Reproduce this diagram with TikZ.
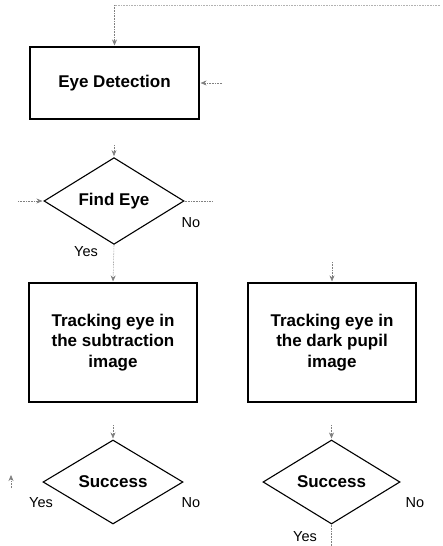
\documentclass[tikz,border=0pt]{standalone}
\usepackage{fontspec}
\setmainfont{Liberation Sans}
\usetikzlibrary{positioning,shapes.geometric,arrows.meta}

\begin{document}
\begin{tikzpicture}[x=1pt,y=-1pt,
    box/.style={draw,line width=1.1pt,minimum width=169pt,minimum height=72pt,inner sep=0pt,align=center,font=\fontsize{17}{20.5}\selectfont\bfseries},
    decision/.style={draw,diamond,line width=1.1pt,minimum width=140pt,minimum height=84pt,inner sep=0pt,font=\fontsize{17}{20.5}\selectfont\bfseries},
    link/.style={draw=gray,densely dotted,line width=0.6pt},
    flow/.style={link,-{Stealth[length=6pt,width=5pt]},shorten >=1pt},
    lbl/.style={font=\fontsize{14.5}{16}\selectfont}]
  \useasboundingbox (0,0) rectangle (443,546);
  % steps
  \node[box] (ed) at (114.5,83) {Eye Detection};
  \node[decision] (fe) at (114,201) {Find Eye};
  \node[box,minimum width=168pt,minimum height=119pt] (sub) at (113,342.5) {Tracking eye in\\the subtraction\\image};
  \node[box,minimum width=168pt,minimum height=119pt] (dark) at (332,342.5) {Tracking eye in\\the dark pupil\\image};
  \node[decision] (oks) at (113,482) {Success};
  \node[decision,minimum width=137pt] (okd) at (331.5,482) {Success};
  % answers
  \node[lbl] (fe-no) at (191,223) {No};
  \node[lbl] (fe-yes) at (86,252) {Yes};
  \node[lbl] (oks-yes) at (41,503) {Yes};
  \node[lbl] (oks-no) at (191,503) {No};
  \node[lbl] (okd-no) at (415,503) {No};
  \node[lbl] (okd-yes) at (305,536.5) {Yes};
  % loose ends
  \coordinate (loop) at (440,5);
  \coordinate (bend) at (114.5,5);
  \coordinate (back) at (222,83);
  \coordinate (in-fe) at (114,145);
  \coordinate (retry) at (18,201);
  \coordinate (fe-out) at (212,201);
  \coordinate (in-dark) at (332,262);
  \coordinate (in-oks) at (113,425);
  \coordinate (in-okd) at (331.5,425);
  \coordinate (up-a) at (11,488);
  \coordinate (up-b) at (11,474);
  \coordinate (end) at (331.5,546);
  % connectors
  \draw[link,draw=gray!60] (loop) -- (bend);
  \draw[flow] (bend) -- (ed.north);
  \draw[flow] (back) -- (ed.east);
  \draw[flow] (in-fe) -- (fe.north);
  \draw[flow] (retry) -- (fe.west);
  \draw[link] (fe.east) -- (fe-out);
  \draw[flow] (fe.south) -- (sub.north);
  \draw[flow] (in-dark) -- (dark.north);
  \draw[flow] (in-oks) -- (oks.north);
  \draw[flow] (in-okd) -- (okd.north);
  \draw[flow] (up-a) -- (up-b);
  \draw[link] (okd.south) -- (end);
\end{tikzpicture}
\end{document}
